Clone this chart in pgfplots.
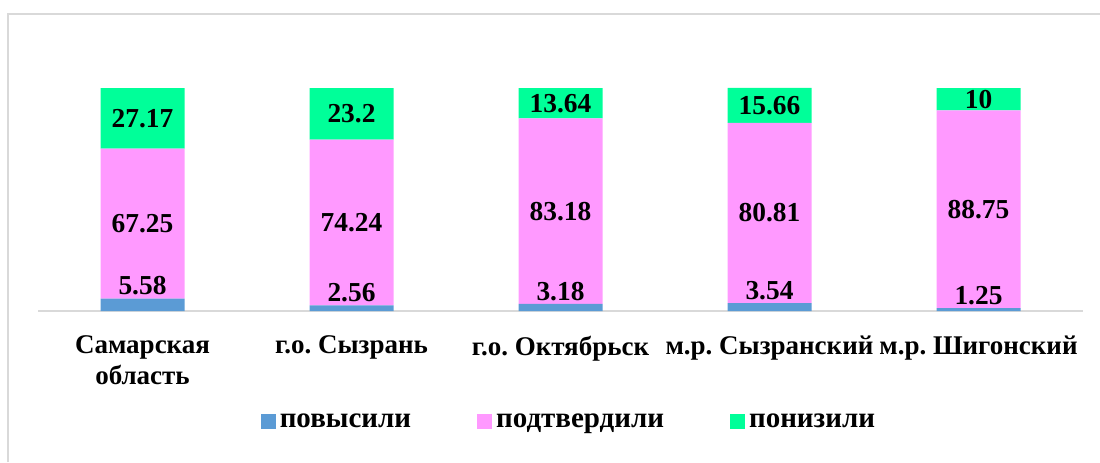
\documentclass[border=0pt]{standalone}
\usepackage{pgfplots}
\pgfplotsset{compat=1.18}
\usepackage{pgfplotstable}
\usepackage{fontspec}
\setmainfont{Liberation Serif}[BoldFont={Liberation Serif Bold}]
\newfontfamily\tnr{Liberation Serif Bold}
\frenchspacing
\definecolor{cblue}{HTML}{5B9BD5}
\definecolor{cpink}{HTML}{FF99FF}
\definecolor{cgreen}{HTML}{00FF99}
\definecolor{cgrid}{HTML}{D9D9D9}
\pgfplotstableread{
x b p g
0 5.58 67.25 27.17
1 2.56 74.24 23.2
2 3.18 83.18 13.64
3 3.54 80.81 15.66
4 1.25 88.75 10
}\data
\begin{document}
\begin{tikzpicture}[font=\tnr\fontsize{13.5}{15.5}\selectfont]
\useasboundingbox (0,0) rectangle (550pt,-231pt);
\draw[cgrid, line width=1pt] (4pt,-231pt) -- (4pt,-7pt) -- (550pt,-7pt);
\begin{axis}[at={(19pt,-155.5pt)}, anchor=south west, scale only axis,
  width=522.5pt, height=111.5pt,
  ybar stacked, bar width=42pt,
  xmin=-0.5, xmax=4.5, ymin=0, ymax=100,
  axis x line=bottom, axis y line=none,
  x axis line style={cgrid, line width=0.75pt, -},
  ytick=\empty,
  xtick={0,1,2,3,4},
  xticklabels={{Самарская\\область}, {г.о. Сызрань}, {г.о. Октябрьск}, {м.р. Сызранский}, {м.р. Шигонский}},
  xticklabel style={align=center, yshift=-9pt, font=\tnr\fontsize{13.5}{15.5}\selectfont},
  major tick length=0pt,
  legend columns=3,
  legend style={draw=none, fill=none, at={(0.509,-0.50)}, anchor=center,
    font=\tnr\fontsize{14.5}{16}\selectfont,
    /tikz/every even column/.append style={column sep=31pt}},
  legend image code/.code={\fill[#1] (0.8pt,-3.2pt) rectangle (8.3pt,4.3pt);},
  clip=false]
\addplot[fill=cblue, draw=none] table[x=x,y=b]{\data};
\addplot[fill=cpink, draw=none] table[x=x,y=p]{\data};
\addplot[fill=cgreen, draw=none] table[x=x,y=g]{\data};
\legend{повысили, подтвердили, понизили}
\end{axis}
\begin{axis}[at={(19pt,-155.5pt)}, anchor=south west, scale only axis,
  width=522.5pt, height=111.5pt,
  xmin=-0.5, xmax=4.5, ymin=0, ymax=100, hide axis, clip=false,
  every node near coord/.append style={font=\tnr\fontsize{13.7}{15.5}\selectfont}]
\addplot[draw=none, mark=none, nodes near coords, point meta=explicit symbolic,
  nodes near coords align={south}, every node near coord/.append style={inner sep=1.5pt}]
  table[x=x, y=b, meta=b]{\data};
\addplot[draw=none, mark=none, nodes near coords, point meta=explicit symbolic,
  nodes near coords align={center}]
  table[x=x, y expr=\thisrow{b}+0.5*\thisrow{p}, meta=p]{\data};
\addplot[draw=none, mark=none, nodes near coords, point meta=explicit symbolic,
  nodes near coords align={center}]
  table[x=x, y expr=\thisrow{b}+\thisrow{p}+0.5*\thisrow{g}, meta=g]{\data};
\end{axis}
\end{tikzpicture}
\end{document}
